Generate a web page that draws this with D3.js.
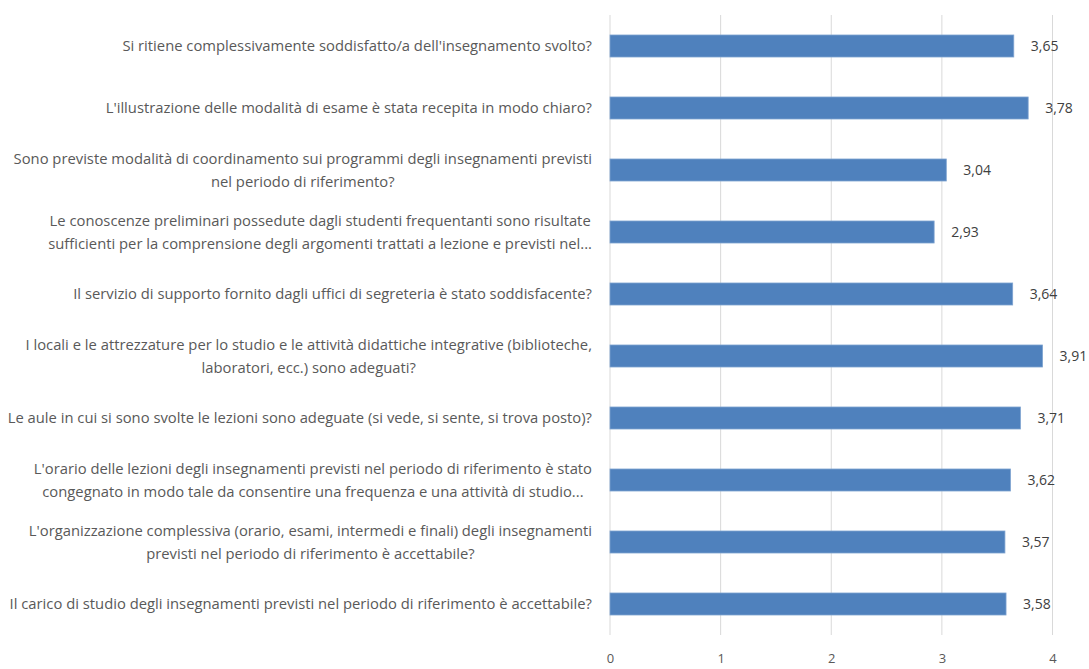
<!DOCTYPE html>
<html><head><meta charset="utf-8">
<script src="https://cdn.jsdelivr.net/npm/d3@7"></script>
<style>body{margin:0;background:#fff;} svg{display:block;}</style>
</head><body>
<svg id="c" width="1089" height="669"></svg>
<script>
const categories = [
  ["Si ritiene complessivamente soddisfatto/a dell'insegnamento svolto?"],
  ["L'illustrazione delle modalità di esame è stata recepita in modo chiaro?"],
  ["Sono previste modalità di coordinamento sui programmi degli insegnamenti previsti", "nel periodo di riferimento?"],
  ["Le conoscenze preliminari possedute dagli studenti frequentanti sono risultate", "sufficienti per la comprensione degli argomenti trattati a lezione e previsti nel..."],
  ["Il servizio di supporto fornito dagli uffici di segreteria è stato soddisfacente?"],
  ["I locali e le attrezzature per lo studio e le attività didattiche integrative (biblioteche,", "laboratori, ecc.) sono adeguati?"],
  ["Le aule in cui si sono svolte le lezioni sono adeguate (si vede, si sente, si trova posto)?"],
  ["L'orario delle lezioni degli insegnamenti previsti nel periodo di riferimento è stato", "congegnato in modo tale da consentire una frequenza e una attività di studio..."],
  ["L'organizzazione complessiva (orario, esami, intermedi e finali) degli insegnamenti", "previsti nel periodo di riferimento è accettabile?"],
  ["Il carico di studio degli insegnamenti previsti nel periodo di riferimento è accettabile?"]
];
const values = [3.65, 3.78, 3.04, 2.93, 3.64, 3.91, 3.71, 3.62, 3.57, 3.58];
const tickValues = [0, 1, 2, 3, 4];

const FONT = "'Open Sans', sans-serif";
const svg = d3.select("#c");
const x = d3.scaleLinear().domain([0, 4]).range([610, 1052.5]);
const y = d3.scaleBand().domain(d3.range(values.length)).range([15, 635]).paddingInner(0.645).paddingOuter(0.3225);

// gridlines
svg.append("g").selectAll("line").data(tickValues).join("line")
  .attr("x1", d => x(d)).attr("x2", d => x(d))
  .attr("y1", 15).attr("y2", 635)
  .attr("stroke", "#d9d9d9").attr("stroke-width", 1);

// axis labels
const ax = svg.append("g").attr("transform", "translate(0,635)")
  .call(d3.axisBottom(x).tickValues(tickValues).tickSize(0).tickPadding(19).tickFormat(d3.format("d")));
ax.select(".domain").remove();
ax.selectAll("text").attr("font-family", FONT).attr("font-size", 13).attr("fill", "#595959");

// bars
svg.append("g").selectAll("rect").data(values).join("rect")
  .attr("x", x(0)).attr("y", (d, i) => y(i))
  .attr("width", d => x(d) - x(0)).attr("height", y.bandwidth())
  .attr("fill", "#4f81bd").attr("stroke", "#7ea3d0").attr("stroke-width", 0.8);

// value labels
svg.append("g").selectAll("text").data(values).join("text")
  .attr("x", d => x(d) + 17).attr("y", (d, i) => y(i) + y.bandwidth() / 2)
  .attr("dy", "0.35em")
  .attr("font-family", FONT).attr("font-size", 14).attr("fill", "#404040")
  .text(d => d3.format(".2f")(d).replace(".", ","));

// fit category label font size so the longest line spans like the reference
const probe = svg.append("text").attr("font-family", FONT).attr("font-size", 14).text(categories[6][0]);
const pw = probe.node().getComputedTextLength();
probe.remove();
const labelSize = 14 * 585 / pw;

const lg = svg.append("g");
categories.forEach((lines, i) => {
  const cy = y(i) + y.bandwidth() / 2;
  const g = lg.append("g");
  const lh = 23;
  const texts = lines.map((l, j) => g.append("text")
    .attr("y", cy + (j - (lines.length - 1) / 2) * lh)
    .attr("dy", "0.35em")
    .attr("font-family", FONT).attr("font-size", labelSize).attr("fill", "#595959")
    .text(l));
  const maxW = d3.max(texts.map(t => t.node().getComputedTextLength()));
  const right = 592;
  texts.forEach(t => t.attr("x", right - maxW / 2).attr("text-anchor", "middle"));
});
</script>
</body></html>
